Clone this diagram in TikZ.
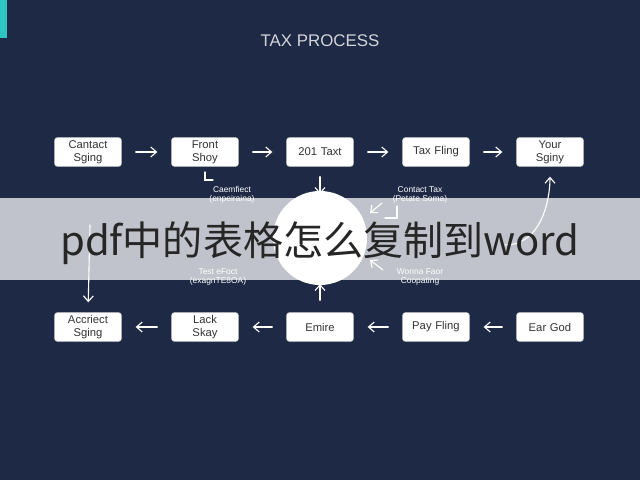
\documentclass[tikz,border=0pt]{standalone}
\usepackage{fontspec}
\setsansfont{Liberation Sans}
\newfontfamily\cjk{Noto Sans CJK SC}
\usetikzlibrary{positioning,arrows.meta}
\definecolor{navy}{HTML}{1E2A45}
\definecolor{teal}{HTML}{2EC4C4}
\begin{document}
\begin{tikzpicture}
		[x=0.025cm,y=-0.025cm,line cap=round,
		%Styles
		stage/.style={draw=gray!40,fill=white,rounded corners=2pt,
			text width=1.6cm,minimum height=0.72cm,align=center,font=\sffamily\footnotesize,text=black!80,
			inner sep=1pt},
		flow/.style={white,thick,-{Straight Barb[length=4pt,width=7pt]}},
		note/.style={white,align=center,font=\sffamily\fontsize{6}{6.5}\selectfont,inner sep=0pt}
		]
		
		%Background
		\fill[navy] (0,0) rectangle (640,480);
		\fill[teal] (0,0) rectangle (7,38);
		\node[white!80!navy,font=\sffamily\large] (title) at (320,41) {TAX PROCESS};
		
		%Top row
		\node[stage] (t1) at (88,152) {Cantact\\Sging};
		\node[stage] (t2) at (205,152) {Front\\Shoy};
		\node[stage] (t3) at (320,152) {201 Taxt};
		\node[stage] (t4) at (436,152) {Tax Fling};
		\node[stage] (t5) at (550,152) {Your\\Sginy};
		\foreach \a/\b in {t1/t2,t2/t3,t3/t4,t4/t5}
			\draw[flow,shorten <=0.35cm,shorten >=0.35cm] (\a) -- (\b);
		
		%Bottom row
		\node[stage] (b1) at (88,327) {Accriect\\Sging};
		\node[stage] (b2) at (205,327) {Lack\\Skay};
		\node[stage] (b3) at (320,327) {Emire};
		\node[stage] (b4) at (436,327) {Pay Fling};
		\node[stage] (b5) at (550,327) {Ear God};
		\foreach \a/\b in {b5/b4,b4/b3,b3/b2,b2/b1}
			\draw[flow,shorten <=0.35cm,shorten >=0.35cm] (\a) -- (\b);
		
		%Middle
		\node[circle,fill=white,minimum size=2.35cm] (hub) at (320,238) {};
		\coordinate (td) at (320,194);
		\draw[flow,shorten <=0.25cm] (t3.south) -- (td);
		\coordinate (bu) at (320,284);
		\draw[flow,shorten <=0.3cm] (b3.north) -- (bu);
		\node[note] (n1) at (232,195) {Caemfiect\\(enpeiraina)};
		\node[note] (n2) at (420,195) {Contact Tax\\(Petate Soma)};
		\node[note] (n3) at (218,277) {Test eFoct\\(exagnTE8OA)};
		\node[note] (n4) at (420,277) {Wonna Faor\\Coopating};
		\draw[white,thick] (205,172) -- (205,180) -- (213,180);
		\draw[white,thick] (385,218) -- (397,218) -- (397,206);
		\draw[flow] (382,203) -- (370,213);
		\draw[flow] (383,270) -- (370,260);
		\coordinate (rc) at (505,245);
		\draw[flow,shorten >=0.25cm] (rc) to[out=0,in=-90] (t5.south);
		\coordinate (lc) at (90,225);
		\draw[flow,shorten >=0.25cm] (lc) -- (b1.north);
		
		%Overlay band
		\fill[white,opacity=0.72] (0,198) rectangle (640,280);
		\node[black!85,font=\cjk\fontsize{28.5}{28.5}\selectfont] (caption) at (320,243) {pdf中的表格怎么复制到word};
	\end{tikzpicture}
\end{document}
